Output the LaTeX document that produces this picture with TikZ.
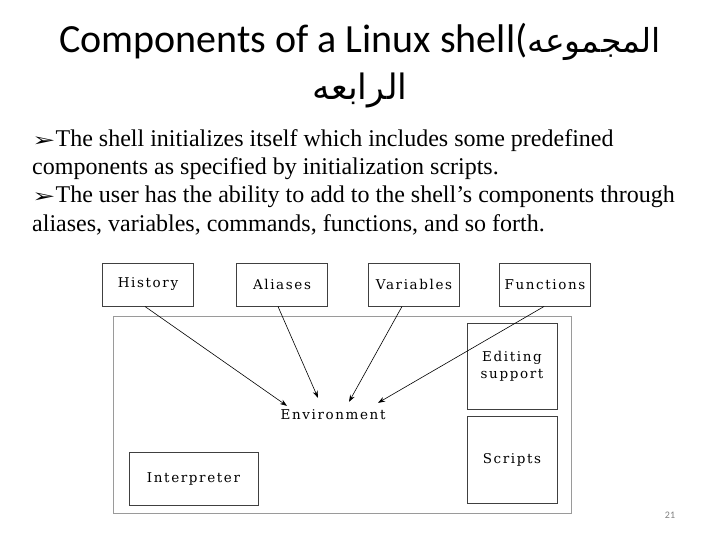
\documentclass[tikz,border=0pt]{standalone}
\usepackage{fontspec}
\setmainfont{Liberation Serif}
\newfontfamily\titlefont{Carlito}
\newfontfamily\arabicfont[Script=Arabic]{DejaVu Sans}
\newfontfamily\symfont{DejaVu Sans}
\newfontfamily\boxfont[LetterSpace=12]{DejaVu Serif}
\TeXXeTstate=1
\usetikzlibrary{arrows.meta}
\definecolor{boxline}{HTML}{404040}
\definecolor{shellline}{HTML}{9A9A9A}
\newcommand{\pointer}{\scalebox{1}[0.65]{\symfont\fontsize{28}{30}\selectfont ➢}}

\begin{document}
\begin{tikzpicture}[x=1pt,y=-1pt,
  comp/.style={draw=boxline,line width=1pt,minimum width=91pt,minimum height=43pt,
    inner sep=0pt,align=center,font=\boxfont\fontsize{13.5}{17}\selectfont},
  bodyline/.style={anchor=base west,inner sep=0pt,font=\fontsize{24}{28}\selectfont},
  feed/.style={-{Stealth[length=7pt,width=5pt]},line width=0.6pt}]
  \useasboundingbox (0,0) rectangle (720,540);
  % title
  \node[font=\titlefont\fontsize{40}{48}\selectfont] (title) at (360,42)
    {Components of a Linux shell({\arabicfont\fontsize{33}{36}\selectfont\beginR المجموعه\endR}};
  \node[font=\arabicfont\fontsize{35}{40}\selectfont] (title2) at (360,90)
    {\beginR الرابعه\endR};
  % bullet text
  \node[bodyline] (line1) at (32,147)
    {\pointer The shell initializes itself which includes some predefined};
  \node[bodyline] (line2) at (32,175)
    {components as specified by initialization scripts.};
  \node[bodyline] (line3) at (32,203)
    {\pointer The user has the ability to add to the shell’s components through};
  \node[bodyline] (line4) at (32,231)
    {aliases, variables, commands, functions, and so forth.};
  % the shell
  \node[draw=shellline,line width=1pt,minimum width=458pt,minimum height=197pt,inner sep=0pt]
    (shell) at (342,414.5) {};
  \foreach \x/\n/\t in {148/hist/History, 282/alias/Aliases, 414/var/Variables, 545/func/Functions}
    \node[comp] (\n) at (\x,284.5) {\t};
  \node[comp,minimum width=90pt,minimum height=86pt] (edit) at (512,366) {Editing\\support};
  \node[comp,minimum width=90pt,minimum height=87pt] (scripts) at (512,459.5) {Scripts};
  \node[comp,minimum width=129pt,minimum height=53pt] (interp) at (193.5,479) {Interpreter};
  \node[anchor=base,inner sep=4pt,font=\boxfont\fontsize{13.5}{17}\selectfont] (env) at (333,419)
    {Environment};
  % arrows into the environment
  \draw[feed] ([xshift=-3pt]hist.south) -- ([xshift=-46pt,yshift=-1pt]env.north);
  \draw[feed] ([xshift=-4pt]alias.south) -- ([xshift=-15pt,yshift=7pt]env.north);
  \draw[feed] ([xshift=-12pt]var.south) -- ([xshift=16pt,yshift=3pt]env.north);
  \draw[feed] ([xshift=-1pt]func.south) -- ([xshift=45pt,yshift=2pt]env.north);
  \node[text=gray,font=\titlefont\fontsize{10}{12}\selectfont] (page) at (670,515) {21};
\end{tikzpicture}
\end{document}
